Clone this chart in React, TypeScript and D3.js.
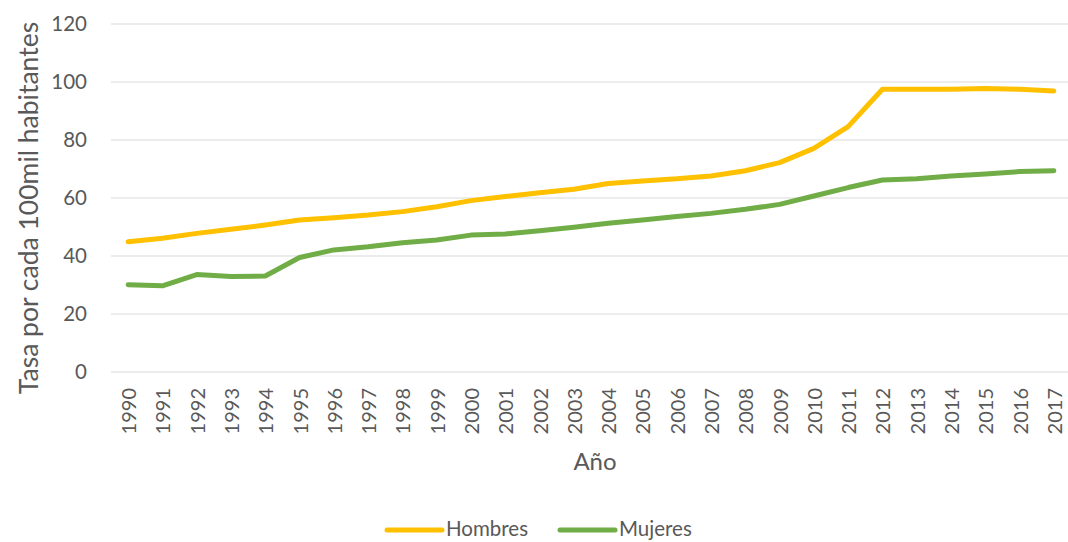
import React from "react";
import * as d3 from "d3";

const years = [1990,1991,1992,1993,1994,1995,1996,1997,1998,1999,2000,2001,2002,2003,2004,2005,2006,2007,2008,2009,2010,2011,2012,2013,2014,2015,2016,2017].map(String);
const hombres = [44.9,46.1,47.8,49.2,50.7,52.4,53.2,54.1,55.3,57.0,59.1,60.5,61.8,63.0,65.0,65.9,66.6,67.6,69.4,72.2,77.1,84.6,97.5,97.5,97.5,97.8,97.5,96.9];
const mujeres = [30.1,29.7,33.6,32.9,33.1,39.5,42.1,43.2,44.6,45.5,47.2,47.6,48.7,49.9,51.3,52.4,53.6,54.7,56.1,57.8,60.7,63.6,66.2,66.6,67.6,68.3,69.1,69.4];
const yTicks = [0,20,40,60,80,100,120];
const seriesNames = ["Hombres","Mujeres"];
const colors = ["#FFC000","#70AD47"];

const W = 1068, H = 542;
const left = 111, right = 1071, top = 24, bottom = 372;
const font = "Lato, 'Open Sans', sans-serif";
const grey = "#595959";

export default function App() {
  const x = d3.scaleBand<string>().domain(years).range([left, right]);
  const y = d3.scaleLinear().domain([0, 120]).range([bottom, top]);
  const line = d3.line<number>()
    .x((_, i) => (x(years[i]) as number) + x.bandwidth() / 2)
    .y(d => y(d));
  const series = [hombres, mujeres];
  return (
    <svg width={W} height={H} style={{ position: "absolute", left: 0, top: 0, display: "block" }}>
      <rect width={W} height={H} fill="#fff" />
      {yTicks.map(t => (
        <g key={t}>
          <line x1={left} x2={W} y1={y(t)} y2={y(t)} stroke="#d9d9d9" strokeWidth={1.2} />
          <text x={87} y={y(t)} dy="0.35em" textAnchor="end" fontFamily={font} fontSize={20.5} fill={grey}>{t}</text>
        </g>
      ))}
      {years.map(yr => (
        <text key={yr} transform={`translate(${(x(yr) as number) + x.bandwidth() / 2 + 1},${388}) rotate(-90)`}
          textAnchor="end" dy="0.35em" fontFamily={font} fontSize={20} fill={grey}>{yr}</text>
      ))}
      <text x={595} y={470} textAnchor="middle" fontFamily={font} fontSize={24} fill={grey}>Año</text>
      <text transform={`translate(38,${208}) rotate(-90)`} textAnchor="middle" fontFamily={font} fontSize={26.5} fill={grey}>Tasa por cada 100mil habitantes</text>
      {series.map((s, i) => (
        <path key={i} d={line(s) as string} fill="none" stroke={colors[i]} strokeWidth={5} strokeLinecap="round" strokeLinejoin="round" />
      ))}
      {seriesNames.map((n, i) => {
        const lx = i === 0 ? 387 : 560;
        return (
          <g key={n}>
            <line x1={lx} x2={lx + 55} y1={530} y2={530} stroke={colors[i]} strokeWidth={5} strokeLinecap="round" />
            <text x={lx + 59} y={529} dy="0.35em" fontFamily={font} fontSize={20.5} fill={grey}>{n}</text>
          </g>
        );
      })}
    </svg>
  );
}
